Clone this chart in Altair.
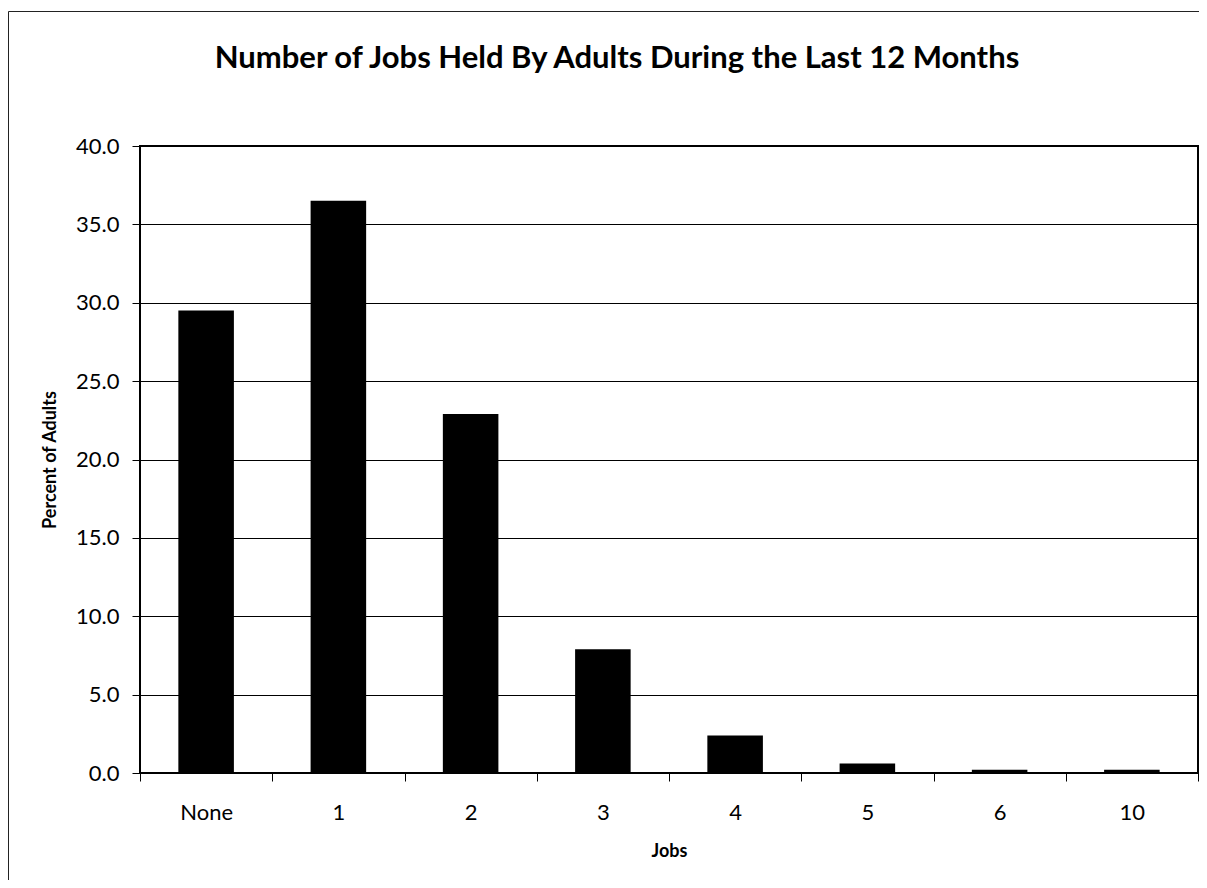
import altair as alt
import pandas as pd

# ---- data ----
jobs = ["None", "1", "2", "3", "4", "5", "6", "10"]
percent = [29.5, 36.5, 22.9, 7.9, 2.4, 0.6, 0.2, 0.2]
y_ticks = [0, 5, 10, 15, 20, 25, 30, 35, 40]
title_text = ["Number of Jobs Held By Adults During the Last 12 Months"]

FONT = "Lato"
W, H = 1058, 627

df = pd.DataFrame({"Jobs": jobs, "Percent": percent})

bars = alt.Chart(df).mark_bar(color="black", width=alt.RelativeBandSize(0.42)).encode(
    x=alt.X(
        "Jobs:N",
        sort=jobs,
        scale=alt.Scale(paddingInner=0, paddingOuter=0),
        axis=alt.Axis(
            title="Jobs",
            labelAngle=0,
            tickBand="extent",
            tickSize=8,
            tickColor="black",
            tickWidth=1,
            labelPadding=21,
            labelFont=FONT,
            labelFontSize=22,
            labelColor="black",
            domain=False,
            grid=False,
            titleFont=FONT,
            titleFontSize=18,
            titleFontWeight="bold",
            titleColor="black",
            titleBaseline="alphabetic",
            titleX=W / 2,
            titleY=83,
        ),
    ),
    y=alt.Y(
        "Percent:Q",
        scale=alt.Scale(domain=[0, 40], nice=False),
        axis=alt.Axis(
            title="Percent of Adults",
            values=y_ticks,
            format=".1f",
            tickSize=8,
            tickColor="black",
            tickWidth=1,
            labelPadding=13,
            labelFont=FONT,
            labelFontSize=22,
            labelColor="black",
            domain=False,
            grid=True,
            gridColor="black",
            gridWidth=1,
            titleFont=FONT,
            titleFontSize=18,
            titleFontWeight="bold",
            titleColor="black",
            titleBaseline="alphabetic",
            titleX=-85,
            titleY=H / 2,
        ),
    ),
)

title = alt.Chart(pd.DataFrame({"t": title_text})).mark_text(
    font=FONT, fontSize=31, fontWeight="bold", color="black",
    align="center", baseline="alphabetic",
).encode(
    text="t:N",
    x=alt.value(477),
    y=alt.value(-78),
)

border = alt.Chart(pd.DataFrame({"a": [0]})).mark_rect(
    fillOpacity=0, stroke="#222222", strokeWidth=1
).encode(
    x=alt.value(-131.5),
    x2=alt.value(1075),
    y=alt.value(-134.5),
    y2=alt.value(760),
)

chart = alt.layer(border, bars, title).properties(
    width=W,
    height=H,
    autosize=alt.AutoSizeParams(type="none"),
    padding={"left": 132, "top": 138, "right": 1, "bottom": 107},
    background="white",
).configure_view(
    stroke="black", strokeWidth=2
)

chart.save("out.html", embed_options={"renderer": "svg", "actions": False})
